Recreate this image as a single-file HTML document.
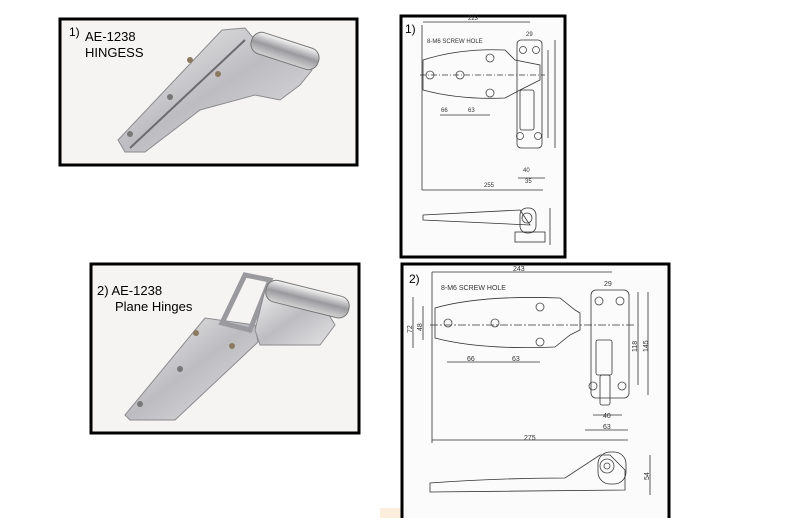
<!DOCTYPE html>
<html><head><meta charset="utf-8"><style>
html,body{margin:0;padding:0;background:#fff;}
body{width:800px;height:518px;overflow:hidden;font-family:"Liberation Sans",sans-serif;}
</style></head><body>
<svg width="800" height="518" viewBox="0 0 800 518" xmlns="http://www.w3.org/2000/svg" font-family="Liberation Sans, sans-serif">
<defs>
<linearGradient id="m" x1="0" y1="0" x2="1" y2="1">
<stop offset="0" stop-color="#f0f0f0"/><stop offset="0.5" stop-color="#bdbdc1"/><stop offset="1" stop-color="#e2e2e4"/>
</linearGradient>
<linearGradient id="c" x1="0" y1="0" x2="0" y2="1">
<stop offset="0" stop-color="#f8f8f8"/><stop offset="0.5" stop-color="#9a9a9e"/><stop offset="1" stop-color="#d4d4d4"/>
</linearGradient>
</defs>
<rect x="0" y="0" width="800" height="518" fill="#fff"/>
<rect x="380" y="508" width="210" height="10" fill="#fbeedd"/>

<!-- Top-left photo box -->
<rect x="60" y="19" width="297" height="146" fill="#f6f4f2" stroke="#000" stroke-width="3"/>
<text x="69" y="36" font-size="12">1)</text>
<text x="85" y="41" font-size="13">AE-1238</text>
<text x="85" y="57" font-size="13">HINGESS</text>
<path d="M118 140 L222 30 L245 28 L255 40 L290 45 L312 70 L300 85 L280 100 L255 95 L200 110 L145 152 L125 152 Z" fill="url(#m)" stroke="#8c8c90" stroke-width="1"/>
<path d="M130 148 L245 40" stroke="#6b6b70" stroke-width="2"/>
<rect x="250" y="40" width="70" height="22" rx="10" transform="rotate(18 285 51)" fill="url(#c)" stroke="#777"/>
<circle cx="190" cy="60" r="3" fill="#8a7a60"/><circle cx="218" cy="74" r="3" fill="#8a7a60"/>
<circle cx="170" cy="97" r="3" fill="#777"/><circle cx="130" cy="134" r="3" fill="#777"/>

<!-- Bottom-left photo box -->
<rect x="91" y="264" width="268" height="169" fill="#f6f4f2" stroke="#000" stroke-width="3"/>
<text x="97" y="295" font-size="13">2) AE-1238</text>
<text x="115" y="311" font-size="13">Plane Hinges</text>
<path d="M125 415 L205 318 L255 325 L258 342 L175 420 L130 420 Z" fill="url(#m)" stroke="#8c8c90"/>
<path d="M222 323 L245 275 L270 280 L250 330 Z" fill="none" stroke="#9a9a9e" stroke-width="5"/>
<path d="M255 330 L265 290 L320 300 L335 325 L320 345 L260 345 Z" fill="url(#m)" stroke="#8c8c90"/>
<rect x="265" y="288" width="85" height="22" rx="10" transform="rotate(14 307 299)" fill="url(#c)" stroke="#777"/>
<circle cx="196" cy="333" r="3" fill="#8a7a60"/><circle cx="232" cy="346" r="3" fill="#8a7a60"/>
<circle cx="180" cy="369" r="3" fill="#777"/><circle cx="140" cy="404" r="3" fill="#777"/>

<!-- Top-right drawing box -->
<g stroke="#333" fill="none" stroke-width="0.8">
<rect x="401" y="16" width="164" height="241" fill="#fbfbfb" stroke="#000" stroke-width="3"/>
<path d="M423 60 Q460 48 505 50 L515 60 L540 65 L540 80 L520 90 L505 98 Q460 100 423 90 Z"/>
<path d="M420 75 L545 75" stroke-dasharray="6 2 1 2"/>
<rect x="517" y="40" width="25" height="108" rx="4"/>
<rect x="520" y="90" width="14" height="40" rx="2"/>
<line x1="422" y1="25" x2="422" y2="190"/><line x1="422" y1="190" x2="543" y2="190"/>
<line x1="423" y1="22" x2="530" y2="22"/>
<line x1="555" y1="40" x2="555" y2="148"/><line x1="548" y1="50" x2="548" y2="138"/>
<line x1="440" y1="115" x2="490" y2="115"/><line x1="518" y1="178" x2="545" y2="178"/>
<path d="M423 215 L520 210 L530 225 L423 220 Z"/>
<rect x="515" y="232" width="30" height="10"/><rect x="520" y="208" width="16" height="25" rx="7"/>
<line x1="550" y1="208" x2="550" y2="245"/>
</g>
<g fill="none" stroke="#444" stroke-width="0.8">
<circle cx="430" cy="75" r="4"/><circle cx="460" cy="75" r="4"/><circle cx="490" cy="58" r="4"/><circle cx="490" cy="93" r="4"/>
<circle cx="523" cy="50" r="3.5"/><circle cx="536" cy="50" r="3.5"/><circle cx="520" cy="136" r="3.5"/><circle cx="538" cy="136" r="3.5"/>
<circle cx="527" cy="218" r="5"/>
</g>
<g font-size="6" fill="#333">
<text x="405" y="33" font-size="12" fill="#000">1)</text>
<text x="427" y="43">8-M6 SCREW HOLE</text>
<text x="468" y="20">223</text><text x="526" y="36">29</text>
<text x="441" y="112">66</text><text x="468" y="112">63</text>
<text x="484" y="187">255</text><text x="523" y="172">40</text><text x="525" y="183">35</text>
</g>

<!-- Bottom-right drawing box -->
<rect x="402" y="264" width="267" height="260" fill="#fbfbfb" stroke="#000" stroke-width="3"/>
<g stroke="#333" fill="none" stroke-width="0.8">
<path d="M435 308 Q480 295 560 298 L575 310 L580 313 L580 330 L570 335 L555 347 Q480 350 435 338 Z"/>
<line x1="430" y1="325" x2="635" y2="325" stroke-dasharray="8 2 2 2"/>
<rect x="591" y="290" width="38" height="108" rx="5"/>
<rect x="596" y="340" width="16" height="35" rx="2"/>
<rect x="600" y="375" width="10" height="30" rx="2"/>
<line x1="432" y1="272" x2="612" y2="272"/><line x1="432" y1="272" x2="432" y2="443"/>
<line x1="432" y1="440" x2="628" y2="440"/><line x1="585" y1="430" x2="628" y2="430"/>
<line x1="593" y1="415" x2="622" y2="415"/>
<line x1="447" y1="362" x2="540" y2="362"/>
<line x1="413" y1="297" x2="413" y2="348"/><line x1="423" y1="306" x2="423" y2="340"/>
<line x1="638" y1="292" x2="638" y2="385"/><line x1="648" y1="292" x2="648" y2="395"/>
<path d="M430 483 Q500 478 565 478 L600 455 L610 455 L625 470 L625 490 L430 492 Z"/>
<rect x="598" y="452" width="28" height="32" rx="12"/>
<line x1="650" y1="455" x2="650" y2="495"/>
</g>
<g fill="none" stroke="#444" stroke-width="0.8">
<circle cx="448" cy="323" r="4"/><circle cx="495" cy="323" r="4"/><circle cx="540" cy="307" r="4"/><circle cx="540" cy="342" r="4"/>
<circle cx="599" cy="301" r="4"/><circle cx="620" cy="301" r="4"/><circle cx="593" cy="386" r="4"/><circle cx="622" cy="386" r="4"/>
<circle cx="607" cy="466" r="7"/><circle cx="607" cy="466" r="3"/>
</g>
<g font-size="7" fill="#333">
<text x="409" y="283" font-size="12" fill="#000">2)</text>
<text x="441" y="290">8-M6  SCREW HOLE</text>
<text x="513" y="271">243</text><text x="604" y="286">29</text>
<text x="467" y="361">66</text><text x="512" y="361">63</text>
<text x="524" y="440">275</text><text x="603" y="418">40</text><text x="603" y="429">63</text>
<text x="0" y="0" transform="translate(412,333) rotate(-90)">72</text>
<text x="0" y="0" transform="translate(422,331) rotate(-90)">48</text>
<text x="0" y="0" transform="translate(637,352) rotate(-90)">118</text>
<text x="0" y="0" transform="translate(648,352) rotate(-90)">145</text>
<text x="0" y="0" transform="translate(649,480) rotate(-90)">54</text>
</g>
</svg>
</body></html>
